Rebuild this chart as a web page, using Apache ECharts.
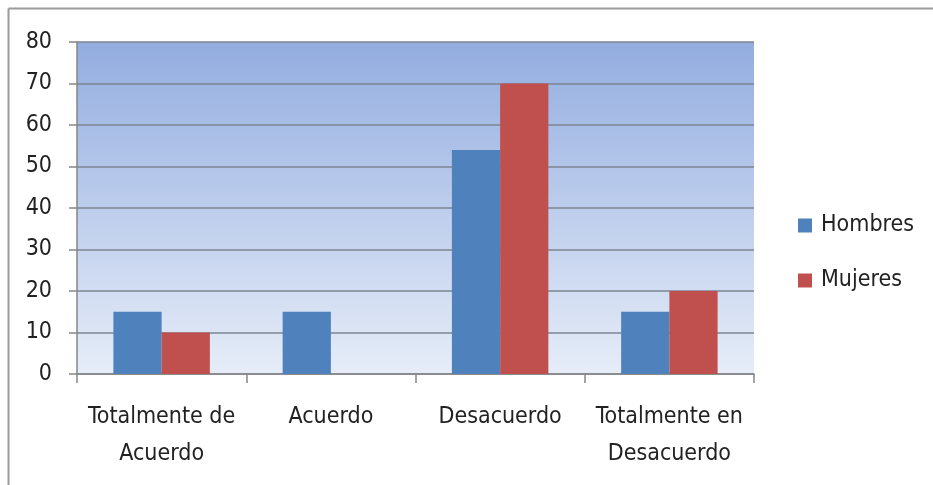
<!DOCTYPE html>
<html>
<head>
<meta charset="utf-8">
<script src="https://cdn.jsdelivr.net/npm/echarts@6/dist/echarts.min.js"></script>
<style>html,body{margin:0;padding:0;background:#fff}#c{width:933px;height:485px}</style>
</head>
<body>
<div id="c"></div>
<script>
const categories = ['Totalmente de\nAcuerdo', 'Acuerdo', 'Desacuerdo', 'Totalmente en\nDesacuerdo'];
const hombres = [15, 15, 54, 15];
const mujeres = [10, 0, 70, 20];
const yTicks = { min: 0, max: 80, interval: 10 };

const FONT = '"DejaVu Sans Condensed", "DejaVu Sans", sans-serif';
const chart = echarts.init(document.getElementById('c'), null, { renderer: 'canvas' });
chart.setOption({
  animation: false,
  backgroundColor: '#fff',
  textStyle: { fontFamily: FONT },
  graphic: [
    { type: 'line', shape: { x1: 8.5, y1: 8.5, x2: 933, y2: 8.5 }, style: { stroke: '#9a9a9a', lineWidth: 2 } },
    { type: 'line', shape: { x1: 8.5, y1: 8.5, x2: 8.5, y2: 485 }, style: { stroke: '#9a9a9a', lineWidth: 2 } }
  ],
  grid: {
    left: 77, top: 42, right: 179, bottom: 111,
    show: true, borderWidth: 0,
    backgroundColor: new echarts.graphic.LinearGradient(0, 0, 0, 1, [
      { offset: 0, color: '#93ADE0' },
      { offset: 1, color: '#E6EDF8' }
    ])
  },
  legend: {
    orient: 'vertical', left: 798, top: 214, padding: 0,
    itemWidth: 14, itemHeight: 14, itemGap: 32,
    icon: 'rect',
    textStyle: { fontFamily: FONT, fontSize: 23, color: '#222', padding: [0, 0, 0, 4] },
    data: ['Hombres', 'Mujeres']
  },
  xAxis: {
    type: 'category', data: categories,
    axisLine: { show: true, lineStyle: { color: '#868686', width: 1.5 } },
    axisTick: { show: true, length: 9, lineStyle: { color: '#868686', width: 1.5 } },
    axisLabel: { fontFamily: FONT, fontSize: 23, color: '#222', lineHeight: 37, margin: 25, interval: 0 }
  },
  yAxis: {
    type: 'value', min: yTicks.min, max: yTicks.max, interval: yTicks.interval,
    axisLine: { show: true, lineStyle: { color: '#868686', width: 1.5 } },
    axisTick: { show: true, length: 8, lineStyle: { color: '#868686', width: 1.5 } },
    axisLabel: { fontFamily: FONT, fontSize: 23, color: '#222', margin: 25 },
    splitLine: { show: true, lineStyle: { color: '#7d8591', width: 1.5 } }
  },
  series: [
    { name: 'Hombres', type: 'bar', data: hombres, barGap: '0%', barCategoryGap: '43%', itemStyle: { color: '#4F81BD' } },
    { name: 'Mujeres', type: 'bar', data: mujeres, barGap: '0%', barCategoryGap: '43%', itemStyle: { color: '#C0504D' } }
  ]
});
</script>
</body>
</html>
